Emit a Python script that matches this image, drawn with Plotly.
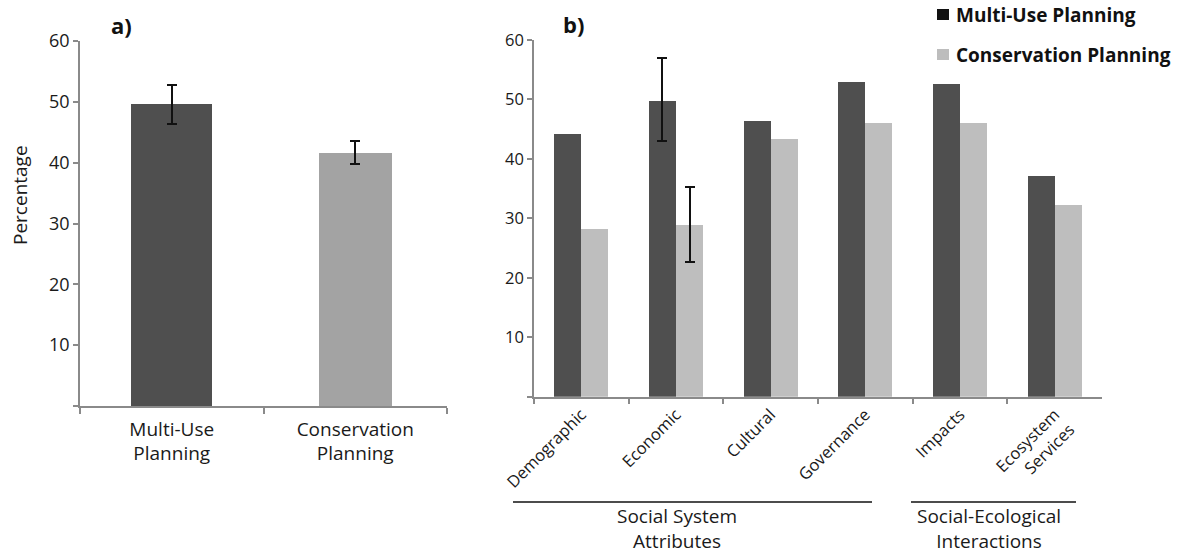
import plotly.graph_objects as go

# ---------------- data ----------------
# Panel a
a_categories = ["Multi-Use<br>Planning", "Conservation<br>Planning"]
a_values = [49.7, 41.6]
a_err_plus = [3.0, 2.0]
a_err_minus = [3.4, 1.9]

# Panel b
b_categories = ["Demographic", "Economic", "Cultural", "Governance", "Impacts", "Ecosystem<br>Services"]
b_multi_use = [44.2, 49.8, 46.4, 52.9, 52.6, 37.1]
b_conservation = [28.2, 28.8, 43.3, 46.1, 46.1, 32.2]
b_err_category = "Economic"
b_multi_use_err = (7.2, 6.8)       # (plus, minus)
b_conservation_err = (6.5, 6.2)    # (plus, minus)

y_ticks = [0, 10, 20, 30, 40, 50, 60]
y_tick_labels = ["", "10", "20", "30", "40", "50", "60"]
series_names = ["Multi-Use Planning", "Conservation Planning"]
group_labels = ["Social System<br>Attributes", "Social-Ecological<br>Interactions"]

# ---------------- style ----------------
W, H = 1182, 553
DARK = "#4f4f4f"
LIGHT_A = "#a3a3a3"
LIGHT_B = "#bebebe"
AXIS = "#8a8a8a"
TXT = "#1a1a1a"
FONT = "Open Sans"

def px(x):
    return x / W

def py(y):
    return 1 - y / H

fig = go.Figure()

# Panel a bars
fig.add_trace(go.Bar(
    x=a_categories, y=a_values, width=[0.44, 0.40],
    marker=dict(color=[DARK, LIGHT_A], line=dict(width=0)),
    error_y=dict(type="data", symmetric=False, array=a_err_plus, arrayminus=a_err_minus,
                 color="#111111", thickness=2, width=5),
    xaxis="x", yaxis="y", showlegend=False, name="a"))

# Panel b bars
bw = 0.286
fig.add_trace(go.Bar(
    x=b_categories, y=b_multi_use, width=bw, offset=-bw,
    marker=dict(color=DARK, line=dict(width=0)),
    xaxis="x2", yaxis="y2", name=series_names[0], showlegend=False))
fig.add_trace(go.Bar(
    x=b_categories, y=b_conservation, width=bw, offset=0,
    marker=dict(color=LIGHT_B, line=dict(width=0)),
    xaxis="x2", yaxis="y2", name=series_names[1], showlegend=False))

# Error bars for the Economic category only
idx = b_categories.index(b_err_category)
fig.add_trace(go.Bar(
    x=[b_categories[idx]], y=[b_multi_use[idx]], width=bw, offset=-bw,
    marker=dict(color="rgba(0,0,0,0)", line=dict(width=0)),
    error_y=dict(type="data", symmetric=False, array=[b_multi_use_err[0]],
                 arrayminus=[b_multi_use_err[1]], color="#111111", thickness=2, width=5),
    xaxis="x2", yaxis="y2", showlegend=False, hoverinfo="skip"))
fig.add_trace(go.Bar(
    x=[b_categories[idx]], y=[b_conservation[idx]], width=bw, offset=0,
    marker=dict(color="rgba(0,0,0,0)", line=dict(width=0)),
    error_y=dict(type="data", symmetric=False, array=[b_conservation_err[0]],
                 arrayminus=[b_conservation_err[1]], color="#111111", thickness=2, width=5),
    xaxis="x2", yaxis="y2", showlegend=False, hoverinfo="skip"))

common_x = dict(type="category", tickson="boundaries", ticks="outside", ticklen=6,
                tickwidth=1.5, tickcolor=AXIS, showline=True, linecolor=AXIS, linewidth=1.5,
                showgrid=False, zeroline=False, automargin=False)
common_y = dict(range=[0, 60], tickmode="array", tickvals=y_ticks, ticktext=y_tick_labels,
                ticks="outside", ticklen=5, tickwidth=1.5, tickcolor=AXIS, showline=True,
                linecolor=AXIS, linewidth=1.5, showgrid=False, zeroline=False, automargin=False)

fig.update_layout(
    template="none",
    width=W, height=H,
    margin=dict(l=0, r=0, t=0, b=0),
    paper_bgcolor="white", plot_bgcolor="rgba(0,0,0,0)",
    font=dict(family=FONT, color=TXT),
    showlegend=False,
    bargap=0,
    xaxis=dict(domain=[px(80), px(447)], anchor="y", range=[-0.5, 1.5],
               tickfont=dict(size=19, color=TXT), ticklabelstandoff=5, **common_x),
    yaxis=dict(domain=[py(406), py(41)], anchor="x",
               tickfont=dict(size=18, color=TXT), **common_y),
    xaxis2=dict(domain=[px(534), px(1102)], anchor="y2", range=[-0.5, 5.5], tickangle=-45,
                tickfont=dict(size=16.5, color=TXT), **common_x),
    yaxis2=dict(domain=[py(396.7), py(40)], anchor="x2",
                tickfont=dict(size=16.5, color=TXT), **common_y),
)

annotations = [
    dict(text="Percentage", x=px(20), y=py(195), textangle=-90, font=dict(size=19, color=TXT)),
    dict(text="<b>a)</b>", x=px(121), y=py(25), font=dict(size=22, color="#111")),
    dict(text="<b>b)</b>", x=px(573), y=py(24), font=dict(size=22, color="#111")),
    dict(text=group_labels[0], x=px(677), y=py(528), font=dict(size=19, color=TXT)),
    dict(text=group_labels[1], x=px(989), y=py(528), font=dict(size=19, color=TXT)),
    dict(text="<b>" + series_names[0] + "</b>", x=px(954), y=py(15), xanchor="left",
         font=dict(size=19, color="#111")),
    dict(text="<b>" + series_names[1] + "</b>", x=px(954), y=py(55), xanchor="left",
         font=dict(size=19, color="#111")),
]
for a in annotations:
    a.setdefault("xanchor", "center")
    a.update(xref="paper", yref="paper", yanchor="middle", showarrow=False)
fig.update_layout(annotations=annotations)

shapes = [
    dict(type="line", x0=px(513), x1=px(872), y0=py(502), y1=py(502), line=dict(color="#111", width=1.5)),
    dict(type="line", x0=px(911), x1=px(1076), y0=py(502), y1=py(502), line=dict(color="#111", width=1.5)),
    dict(type="rect", x0=px(937), x1=px(949), y0=py(20), y1=py(9), fillcolor="#111", line=dict(width=0)),
    dict(type="rect", x0=px(937), x1=px(949), y0=py(60), y1=py(49), fillcolor="#bdbdbd", line=dict(width=0)),
]
for s in shapes:
    s.update(xref="paper", yref="paper")
fig.update_layout(shapes=shapes)

fig.write_html("out.html", config={"displayModeBar": False},
               post_script="document.body.style.margin='0';document.body.style.padding='0';")
